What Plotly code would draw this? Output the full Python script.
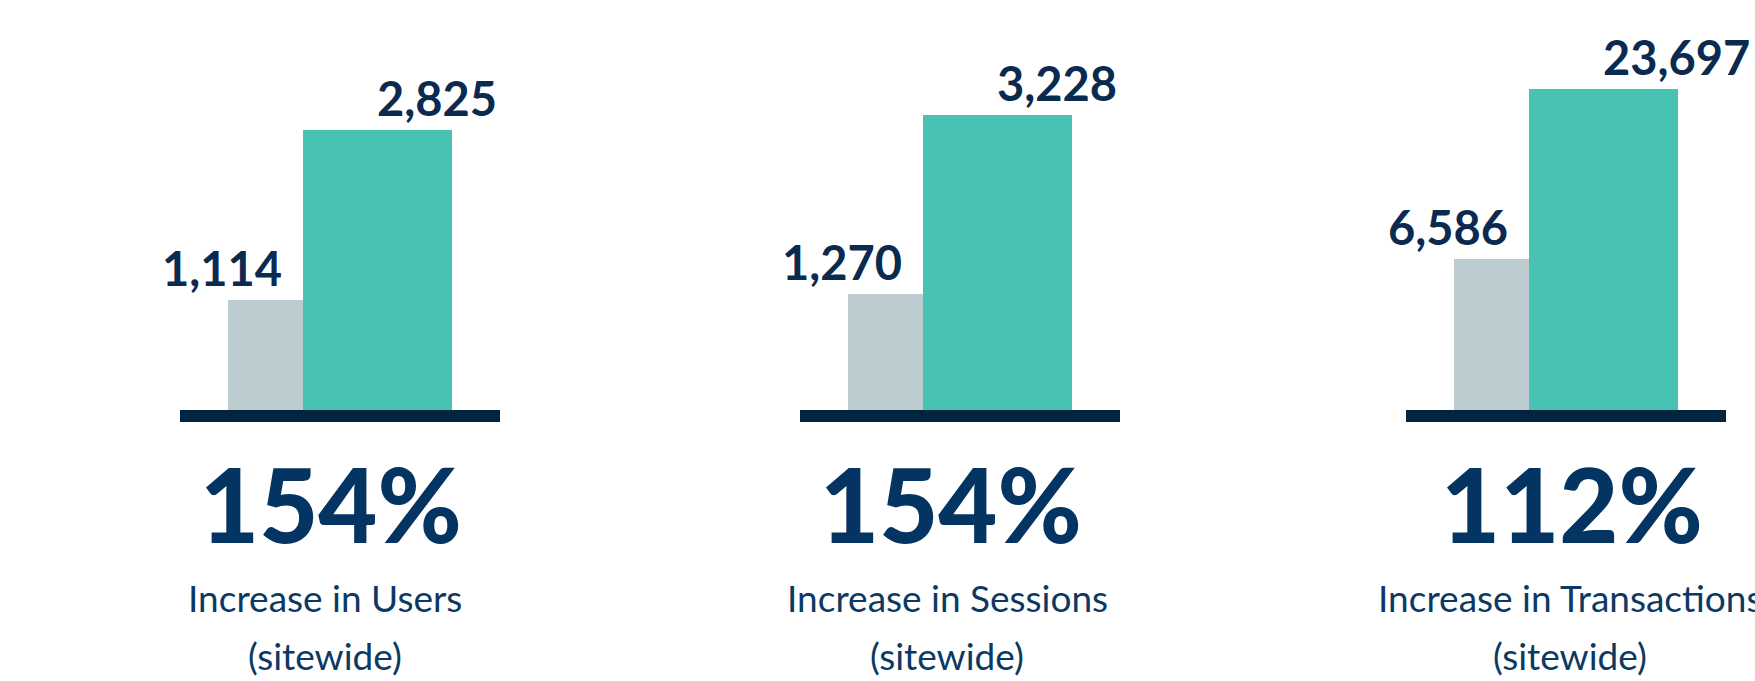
import plotly.graph_objects as go

# ---------------- data ----------------
metrics = ["Users", "Sessions", "Transactions"]
before_values = [1114, 1270, 6586]
after_values = [2825, 3228, 23697]
increase_pct = [154, 154, 112]
subtitle_note = "(sitewide)"

# ---------------- styles / layout constants ----------------
W, H = 1755, 681
GRAY = "#BDCCD1"
TEAL = "#47C2B3"
BASE = "#02243F"
LABEL = "#0B2A50"
BIG = "#043461"
SUB = "#0C3964"
FONT = "Lato"

panel_left_px = [180, 800, 1406]      # left edge of each baseline
panel_width_px = 320
bar_bottom_px = 410
px_per_unit = [1.101, 1.163, 1.515]   # vertical scale of each panel
big_center_px = [331, 951, 1572]
sub_center_px = [325, 947, 1570]
x_range = [-0.635, 3.635]
before_pos, before_w = 0.5, 1.0
after_pos, after_w = 2.0, 2.0
BIG_SIZE = 102
LABEL_SIZE = 47
SUB_SIZE = 37

y_dom = [(H - bar_bottom_px) / H, 1.0]

fig = go.Figure()
annotations = []

for i, name in enumerate(metrics):
    n = "" if i == 0 else str(i + 1)
    xa, ya = "x" + n, "y" + n
    idx_before = 100
    idx_after = 100 + increase_pct[i]

    fig.add_trace(go.Bar(x=[before_pos], y=[idx_before], width=[before_w],
                         marker=dict(color=GRAY, line=dict(width=0)),
                         xaxis=xa, yaxis=ya, showlegend=False,
                         hovertext=[f"{before_values[i]:,}"], hoverinfo="text"))
    fig.add_trace(go.Bar(x=[after_pos], y=[idx_after], width=[after_w],
                         marker=dict(color=TEAL, line=dict(width=0)),
                         xaxis=xa, yaxis=ya, showlegend=False,
                         hovertext=[f"{after_values[i]:,}"], hoverinfo="text"))

    x0 = panel_left_px[i] / W
    x1 = (panel_left_px[i] + panel_width_px) / W
    y_top = (bar_bottom_px) / px_per_unit[i]
    fig.update_layout(**{
        ("xaxis" + n): dict(domain=[x0, x1], range=x_range, anchor=ya,
                            showline=True, linewidth=12, linecolor=BASE,
                            showticklabels=False, ticks="", showgrid=False,
                            zeroline=False, fixedrange=True),
        ("yaxis" + n): dict(domain=y_dom, range=[0, y_top], anchor=xa,
                            visible=False, fixedrange=True),
    })

    # value labels
    annotations.append(dict(
        x=before_pos + before_w / 2, y=idx_before, xref=xa, yref=ya,
        text=f"{before_values[i]:,}", showarrow=False,
        xanchor="right", yanchor="bottom", xshift=-21, yshift=4,
        borderpad=0, borderwidth=0,
        font=dict(family=FONT, size=LABEL_SIZE, color=LABEL, weight=700)))
    annotations.append(dict(
        x=after_pos, y=idx_after, xref=xa, yref=ya,
        text=f"{after_values[i]:,}", showarrow=False,
        xanchor="left", yanchor="bottom", xshift=0, yshift=4,
        borderpad=0, borderwidth=0,
        font=dict(family=FONT, size=LABEL_SIZE, color=LABEL, weight=700)))

    # big percentage
    annotations.append(dict(
        x=big_center_px[i] / W, y=1 - (543 - 0.387 * BIG_SIZE) / H,
        xref="paper", yref="paper",
        text=f"{increase_pct[i]}%", showarrow=False,
        xanchor="center", yanchor="middle", borderpad=0, borderwidth=0,
        font=dict(family=FONT, size=BIG_SIZE, color=BIG, weight=900)))

    # subtitles
    annotations.append(dict(
        x=sub_center_px[i] / W, y=1 - 597.7 / H, xref="paper", yref="paper",
        text=f"Increase in {name}", showarrow=False,
        xanchor="center", yanchor="middle", borderpad=0, borderwidth=0,
        font=dict(family=FONT, size=SUB_SIZE, color=SUB)))
    annotations.append(dict(
        x=sub_center_px[i] / W, y=1 - 655.7 / H, xref="paper", yref="paper",
        text=subtitle_note, showarrow=False,
        xanchor="center", yanchor="middle", borderpad=0, borderwidth=0,
        font=dict(family=FONT, size=SUB_SIZE, color=SUB)))

fig.update_layout(
    width=W, height=H,
    margin=dict(l=0, r=0, t=0, b=0),
    paper_bgcolor="white", plot_bgcolor="white",
    barmode="overlay", bargap=0,
    annotations=annotations,
    showlegend=False,
)

fig.write_html("out.html")
